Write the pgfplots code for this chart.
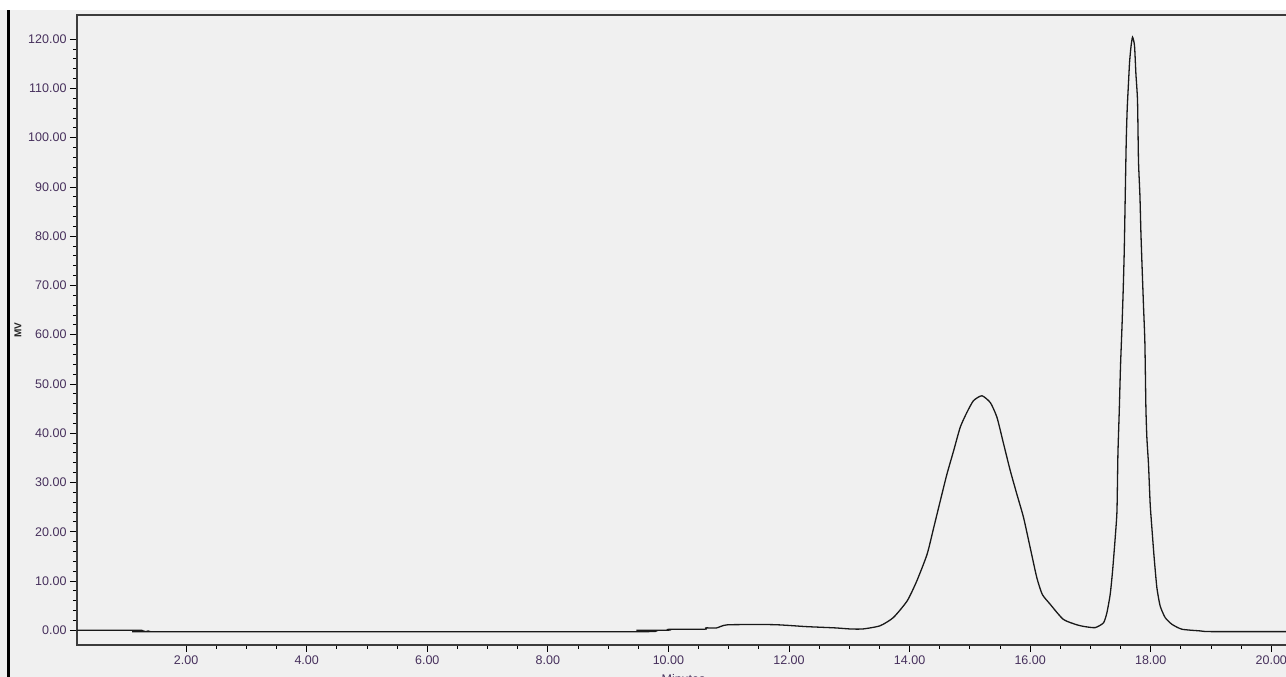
\documentclass[border=0pt]{standalone}
\usepackage{pgfplots}
\pgfplotsset{compat=1.18}
\usepackage{fontspec}
\setmainfont{Liberation Sans}
\definecolor{bggray}{RGB}{240,240,240}
\definecolor{ticktext}{RGB}{70,48,92}
\definecolor{axisgray}{RGB}{60,60,60}
\begin{document}
\begin{tikzpicture}[x=1pt,y=1pt]
\fill[white] (0,0) rectangle (1286,677);
\fill[bggray] (0,0) rectangle (1286,667);
\fill[black] (7,0) rectangle (10,667);
\node[rotate=90, font=\bfseries\fontsize{10}{12}\selectfont, text=black!85] at (18,347) {MV};
\begin{scope}
\clip (0,0) rectangle (1286,667);
\begin{axis}[
  at={(77pt,32pt)}, anchor=south west,
  scale only axis, width=1213pt, height=630pt,
  xmin=0.19, xmax=20.31, ymin=-3, ymax=124.9,
  xtick={2,4,6,8,10,12,14,16,18,20},
  ytick={0,10,20,30,40,50,60,70,80,90,100,110,120},
  minor x tick num=3, minor y tick num=4,
  tick align=outside, tick pos=left,
  major tick length=7pt, minor tick length=4pt,
  tick style={black, line width=0.8pt},
  axis line style={draw=axisgray, line width=1.3pt},
  ticklabel style={font=\fontsize{12.5}{14}\selectfont, text=ticktext,
    /pgf/number format/.cd, fixed, fixed zerofill, precision=2, assume math mode=true, 1000 sep={}},
  xlabel={Minutes},
  xlabel style={font=\fontsize{12.5}{14}\selectfont, text=ticktext, at={(axis description cs:0.5,0)}, anchor=north, yshift=-26pt},
  clip=true,
]
\addplot[black!90, line width=1.3pt, smooth, tension=0.35] coordinates {
(0.19,0) (1.23,0) (1.25,-0.3) (1.29,-0.15) (1.33,-0.3) (1.37,-0.15) (1.41,-0.3) (1.46,-0.3)
(9.46,-0.3) (9.47,0) (10.00,0) (10.02,0.2) (10.60,0.2) (10.62,0.47) (10.80,0.47) (10.98,1.1)
(11.70,1.14) (11.96,1.0) (12.29,0.73) (12.77,0.47) (13.02,0.25) (13.23,0.26) (13.51,0.9)
(13.73,2.56) (13.96,5.95) (14.12,10.0) (14.29,15.4) (14.40,20.8) (14.51,26.3) (14.62,31.7)
(14.73,36.4) (14.84,41.2) (14.95,44.2) (15.06,46.6) (15.20,47.6) (15.34,46.2) (15.45,43.2)
(15.56,37.8) (15.67,32.4) (15.78,27.6) (15.89,22.9) (16.00,16.8) (16.11,10.7) (16.20,7.3)
(16.33,5.3) (16.55,2.2) (16.78,1.08) (16.91,0.73) (17.078,0.53) (17.217,1.5) (17.274,3.6)
(17.328,7.3) (17.367,12.0) (17.411,18.8) (17.440,24.2) (17.456,35.8) (17.478,44.5)
(17.499,53.7) (17.523,61.5) (17.544,69.3) (17.561,77.1) (17.577,88) (17.594,99.4)
(17.610,105.9) (17.632,111.3) (17.649,115.3) (17.672,118.4) (17.698,120.4)
(17.731,118.7) (17.754,113) (17.781,107.5) (17.797,95.3) (17.821,88.2) (17.837,80.8)
(17.858,73.3) (17.880,65.9) (17.903,58.4) (17.920,45.2) (17.936,39.1) (17.963,33.7)
(17.991,25.6) (18.019,20.8) (18.057,14.7) (18.102,8.65) (18.157,4.9) (18.240,2.56)
(18.352,1.2) (18.518,0.2) (18.822,-0.14) (18.99,-0.28) (20.31,-0.28)
};
\end{axis}
\end{scope}
\pgfresetboundingbox
\path[use as bounding box] (0,0) rectangle (1286,677);
\end{tikzpicture}
\end{document}
